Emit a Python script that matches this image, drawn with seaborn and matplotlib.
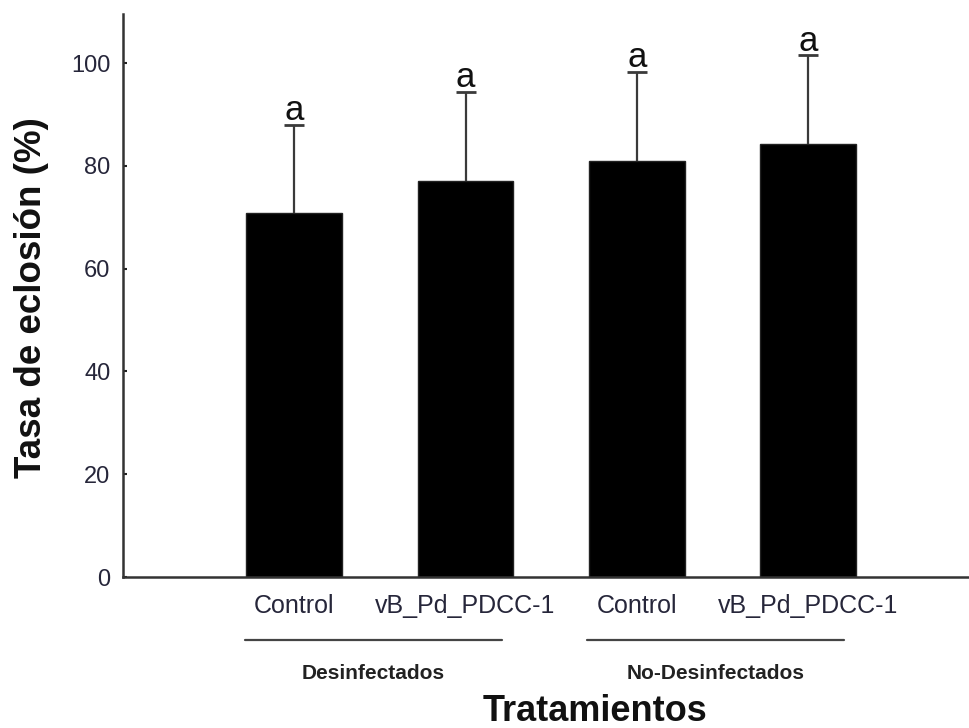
import matplotlib
matplotlib.use("Agg")
import matplotlib.pyplot as plt
import seaborn as sns
import pandas as pd

# Hatching rate per treatment (mean and standard deviation)
grupos = ["Desinfectados", "Desinfectados", "No-Desinfectados", "No-Desinfectados"]
tratamientos = ["Control", "vB_Pd_PDCC-1", "Control", "vB_Pd_PDCC-1"]
tasa_media = [70.8, 77.0, 81.0, 84.2]
tasa_de = [17.2, 17.4, 17.3, 17.3]
letras = ["a", "a", "a", "a"]
yticks = [0, 20, 40, 60, 80, 100]

sns.set_theme(style="white")
plt.rcParams["font.family"] = ["Liberation Sans", "DejaVu Sans"]

df = pd.DataFrame({
    "clave": [f"{g} {t}" for g, t in zip(grupos, tratamientos)],
    "grupo": grupos,
    "tratamiento": tratamientos,
    "tasa": tasa_media,
    "de": tasa_de,
})

fig = plt.figure(figsize=(9.69, 7.28), dpi=100)
ax = fig.add_axes([0.127, 0.2074, 0.873, 0.7736])

sns.barplot(data=df, x="clave", y="tasa", order=list(df["clave"]),
            color="black", width=0.56, errorbar=None, ax=ax,
            edgecolor="#222222", linewidth=1)

# One-sided (upper) standard deviation bars
pos = list(range(len(df)))
_, caps, _ = ax.errorbar(pos, df["tasa"], yerr=[[0] * len(df), df["de"]],
                         fmt="none", ecolor="#3a3a3a", elinewidth=1.6,
                         capsize=7, capthick=2)
for cap in caps:
    if list(cap.get_ydata()) == list(df["tasa"]):
        cap.set_visible(False)

for x, m, s, l in zip(pos, df["tasa"], df["de"], letras):
    ax.annotate(l, xy=(x, m + s), xytext=(0, 3.5), textcoords="offset points",
                ha="center", va="baseline", fontsize=25, color="#111111")

ax.set_xlim(-1.0, 3.94)
ax.set_ylim(0, 109.6)
ax.set_yticks(yticks)
ax.set_yticklabels([str(v) for v in yticks], fontsize=17, color="#26263a")
ax.set_xticks(pos)
ax.set_xticklabels(tratamientos, fontsize=18, color="#26263a")
ax.tick_params(axis="x", length=0, pad=12)
ax.tick_params(axis="y", direction="in", length=3, width=1.5, color="#222222",
               pad=9, left=True)
ax.set_xlabel("")
ax.set_ylabel("")

for side in ["top", "right"]:
    ax.spines[side].set_visible(False)
for side in ["left", "bottom"]:
    ax.spines[side].set_color("#333333")
    ax.spines[side].set_linewidth(1.8)

# Group brackets under the category labels
trans = ax.get_xaxis_transform()
for gname in ["Desinfectados", "No-Desinfectados"]:
    idx = [i for i, g in enumerate(grupos) if g == gname]
    x0 = idx[0] - 0.29
    x1 = x0 + 1.5
    ax.plot([x0, x1], [-0.111, -0.111], transform=trans, clip_on=False,
            color="#444444", lw=1.6)
    ax.text((x0 + x1) / 2, -0.172, gname, transform=trans, ha="center",
            va="center", fontsize=15, fontweight="bold", color="#222222")

fig.text(0.614, 0.022, "Tratamientos", ha="center", va="center",
         fontsize=26, fontweight="bold", color="#111111")
fig.text(0.032, 0.591, "Tasa de eclosión (%)", ha="center", va="center",
         rotation=90, fontsize=26.5, fontweight="bold", color="#111111")

fig.savefig("out.png", dpi=100)
